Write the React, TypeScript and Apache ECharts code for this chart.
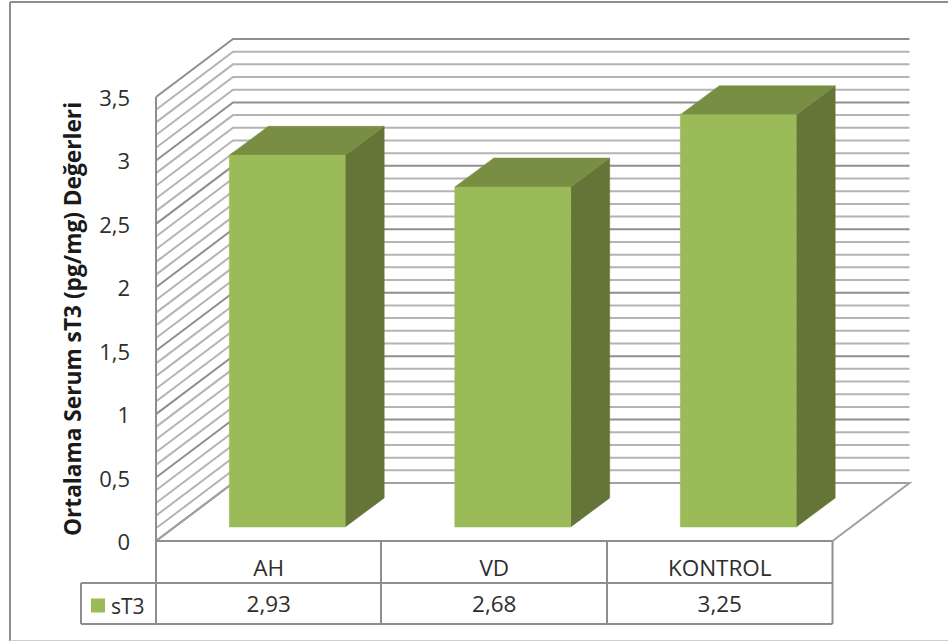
import React, { useEffect, useRef } from "react";
import * as echarts from "echarts";

const categories = ["AH", "VD", "KONTROL"];
const seriesName = "sT3";
const seriesValues = [2.93, 2.68, 3.25];
const valueLabels = ["2,93", "2,68", "3,25"];
const majorTicks = [0, 0.5, 1, 1.5, 2, 2.5, 3, 3.5];
const minorTicks = [
  0.1, 0.2, 0.3, 0.4, 0.6, 0.7, 0.8, 0.9, 1.1, 1.2, 1.3, 1.4, 1.6, 1.7, 1.8, 1.9,
  2.1, 2.2, 2.3, 2.4, 2.6, 2.7, 2.8, 2.9, 3.1, 3.2, 3.3, 3.4,
];
const yTitle = "Ortalama Serum sT3 (pg/mg) Değerleri";

const FONT = '"Open Sans", sans-serif';
const TEXT = "#2e2e2e";
const FRAME = "#8e8e8e";
const WALL_DX = 77;
const WALL_DY = 58;
const BAR_DX = 39;
const BAR_DY = 29;
const BAR_LIFT = 14;
const BAR_SHIFT = 18.5;
const BAR_RATIO = 0.514;
const GRID = { left: 156, right: 115.5, top: 97, bottom: 100 };

const tableLine = (x1: number, y1: number, x2: number, y2: number) => ({
  type: "line",
  silent: true,
  shape: { x1, y1, x2, y2 },
  style: { stroke: FRAME, lineWidth: 2 },
  z: 5,
});

function wallLine(color: string, width: number) {
  return (_p: any, api: any) => {
    const [x0, y] = api.coord([0, api.value(0)]);
    const left = x0 - api.size([1, 0])[0] / 2;
    const right = left + api.size([1, 0])[0] * 3;
    return {
      type: "polyline",
      shape: {
        points: [
          [left, y],
          [left + WALL_DX, y - WALL_DY],
          [right + WALL_DX, y - WALL_DY],
        ],
      },
      style: { stroke: color, lineWidth: width, fill: "none" },
    };
  };
}

function renderBar(_p: any, api: any) {
  const idx = api.value(0);
  const [cx, top] = api.coord([idx, api.value(1)]);
  const [, base] = api.coord([idx, 0]);
  const w = api.size([1, 0])[0] * BAR_RATIO;
  const x0 = cx + BAR_SHIFT - w / 2;
  const x1 = x0 + w;
  const t = top - BAR_LIFT;
  const b = base - BAR_LIFT;
  const poly = (points: number[][], fill: string) => ({
    type: "polygon",
    shape: { points },
    style: { fill, stroke: fill, lineWidth: 0.5 },
  });
  return {
    type: "group",
    children: [
      poly(
        [
          [x1, t],
          [x1 + BAR_DX, t - BAR_DY],
          [x1 + BAR_DX, b - BAR_DY],
          [x1, b],
        ],
        "#657537"
      ),
      poly(
        [
          [x0, t],
          [x0 + BAR_DX, t - BAR_DY],
          [x1 + BAR_DX, t - BAR_DY],
          [x1, t],
        ],
        "#788f43"
      ),
      poly(
        [
          [x0, t],
          [x1, t],
          [x1, b],
          [x0, b],
        ],
        "#9bbb59"
      ),
    ],
  };
}

function renderFloor(_p: any, api: any) {
  const [x0, y] = api.coord([0, 0]);
  const left = x0 - api.size([1, 0])[0] / 2;
  const right = left + api.size([1, 0])[0] * 3;
  return {
    type: "polyline",
    shape: {
      points: [
        [left, y],
        [left + WALL_DX, y - WALL_DY],
        [right + WALL_DX, y - WALL_DY],
        [right, y],
      ],
    },
    style: { stroke: "#a0a0a0", lineWidth: 2, fill: "none" },
  };
}

function renderValueLabel(_p: any, api: any) {
  const idx = api.value(0);
  const [cx, y] = api.coord([idx, 0]);
  return {
    type: "text",
    style: {
      x: cx,
      y: y + 62,
      text: valueLabels[idx],
      font: `22.5px ${FONT}`,
      fill: TEXT,
      align: "center",
      verticalAlign: "middle",
    },
  };
}

export default function App() {
  const ref = useRef<HTMLDivElement>(null);
  useEffect(() => {
    const chart = echarts.init(ref.current!, undefined, { renderer: "svg" });
    chart.setOption({
      animation: false,
      backgroundColor: "#ffffff",
      grid: GRID,
      legend: {
        left: 91,
        top: 595,
        data: [{ name: seriesName, icon: "rect" }],
        itemWidth: 14,
        itemHeight: 14,
        itemGap: 6,
        padding: 0,
        textStyle: { fontFamily: FONT, fontSize: 21, color: TEXT, padding: [0, 0, 0, 1] },
        selectedMode: false,
      },
      xAxis: {
        type: "category",
        data: categories,
        axisLine: { show: false },
        axisTick: { show: false },
        axisLabel: { fontFamily: FONT, fontSize: 22.5, color: TEXT, margin: 15, interval: 0 },
      },
      yAxis: {
        type: "value",
        min: 0,
        max: 3.5,
        interval: 0.5,
        splitLine: { show: false },
        axisLine: { show: false },
        axisTick: { show: false },
        axisLabel: {
          fontFamily: FONT,
          fontSize: 22,
          color: TEXT,
          margin: 26,
          formatter: (v: number) => String(v).replace(".", ","),
        },
        name: yTitle,
        nameLocation: "middle",
        nameGap: 72,
        nameTextStyle: { fontFamily: FONT, fontSize: 22.7, fontWeight: "bold", color: "#1a1a1a" },
      },
      series: [
        {
          type: "custom",
          name: "minor",
          silent: true,
          clip: false,
          z: 1,
          data: minorTicks.map((v) => [v]),
          encode: { y: 0 },
          renderItem: wallLine("#b4b4b4", 2),
        },
        {
          type: "custom",
          name: "major",
          silent: true,
          clip: false,
          z: 2,
          data: majorTicks.map((v) => [v]),
          encode: { y: 0 },
          renderItem: wallLine("#8f8f8f", 2),
        },
        {
          type: "custom",
          name: "floor",
          silent: true,
          clip: false,
          z: 2,
          data: [[0]],
          renderItem: renderFloor,
        },
        {
          type: "custom",
          name: seriesName,
          clip: false,
          z: 3,
          itemStyle: { color: "#9bbb59" },
          data: seriesValues.map((v, i) => [i, v]),
          encode: { x: 0, y: 1 },
          renderItem: renderBar,
        },
        {
          type: "custom",
          name: "values",
          silent: true,
          clip: false,
          z: 4,
          data: seriesValues.map((v, i) => [i, v]),
          encode: { x: 0, y: 1 },
          renderItem: renderValueLabel,
        },
      ],
      graphic: [
        tableLine(156, 541, 832.5, 541),
        tableLine(81, 583, 832.5, 583),
        tableLine(81, 624, 832.5, 624),
        tableLine(81, 583, 81, 624),
        tableLine(156, 97, 156, 624),
        tableLine(381, 541, 381, 624),
        tableLine(607, 541, 607, 624),
        tableLine(832.5, 541, 832.5, 624),
        {
          type: "line",
          silent: true,
          shape: { x1: 10, y1: 2, x2: 948, y2: 2 },
          style: { stroke: FRAME, lineWidth: 2 },
        },
        {
          type: "line",
          silent: true,
          shape: { x1: 10, y1: 2, x2: 10, y2: 641 },
          style: { stroke: FRAME, lineWidth: 2 },
        },
        {
          type: "line",
          silent: true,
          shape: { x1: 10, y1: 640.5, x2: 948, y2: 640.5 },
          style: { stroke: "#d0d0d0", lineWidth: 1 },
        },
      ],
    });
    return () => chart.dispose();
  }, []);
  return <div ref={ref} style={{ position: "absolute", left: 0, top: 0, width: 948, height: 641 }} />;
}
